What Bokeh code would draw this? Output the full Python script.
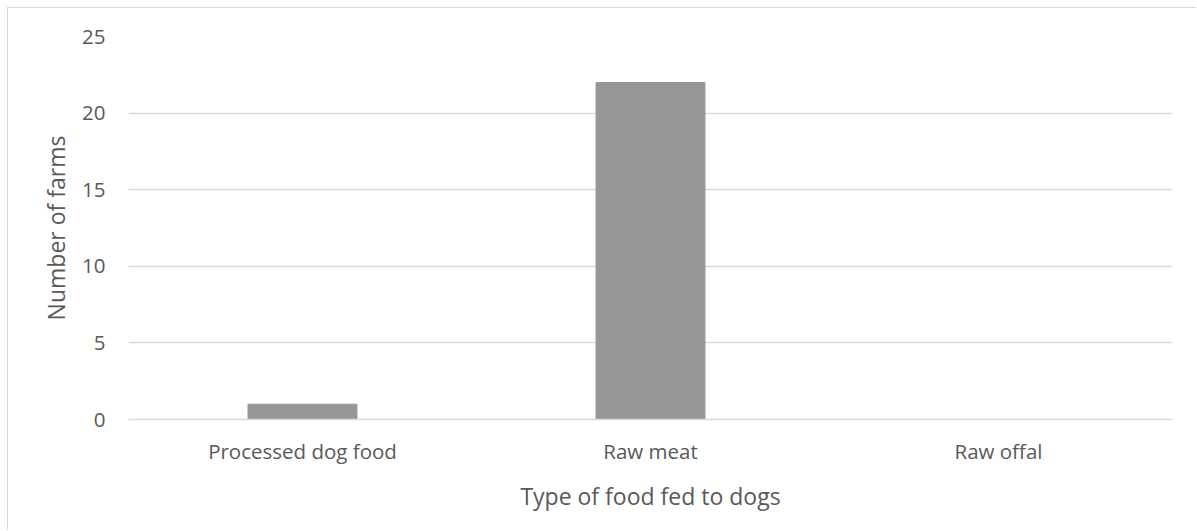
from bokeh.plotting import figure
from bokeh.models import FactorRange, Range1d, FixedTicker
from bokeh.embed import file_html
from bokeh.resources import INLINE

categories = ["Processed dog food", "Raw meat", "Raw offal"]
farms = [1, 22, 0]
y_ticks = [0, 5, 10, 15, 20, 25]
x_title = "Type of food fed to dogs"
y_title = "Number of farms"

TEXT = "#595959"
GRID = "#d9d9d9"
BAR = "#969696"
FONT = "Open Sans"

p = figure(
    x_range=FactorRange(*categories, range_padding=0),
    y_range=Range1d(0, 25),
    width=1189, height=523,
    output_backend="svg", toolbar_location=None,
    min_border_left=120, min_border_right=25,
    min_border_top=28, min_border_bottom=112,
)
p.styles = {"margin-left": "8px", "margin-top": "8px",
            "box-shadow": "-1px -1px 0 0 #d9d9d9"}
p.outline_line_color = None
p.background_fill_color = "white"
p.border_fill_color = "white"

p.vbar(x=categories, top=farms, width=0.313, color=BAR)

p.xgrid.grid_line_color = None
p.ygrid.grid_line_color = GRID
p.ygrid.grid_line_width = 1.3
p.yaxis.ticker = FixedTicker(ticks=y_ticks)

for ax in (p.xaxis[0], p.yaxis[0]):
    ax.major_tick_line_color = None
    ax.minor_tick_line_color = None
    ax.major_tick_in = 0
    ax.major_tick_out = 0
    ax.minor_tick_in = 0
    ax.minor_tick_out = 0
    ax.major_label_text_font = FONT
    ax.major_label_text_color = TEXT
    ax.major_label_text_font_size = "20.5px"
    ax.axis_label_text_font = FONT
    ax.axis_label_text_color = TEXT
    ax.axis_label_text_font_size = "23px"
    ax.axis_label_text_font_style = "normal"

p.yaxis.axis_line_color = None
p.xaxis.axis_line_color = GRID
p.xaxis.axis_line_width = 1.3
p.yaxis.major_label_standoff = 23
p.xaxis.major_label_standoff = 17
p.yaxis.axis_label_standoff = 7
p.xaxis.axis_label_standoff = 12
p.xaxis.axis_label = x_title
p.yaxis.axis_label = y_title

open("out.html", "w").write(file_html(p, INLINE))
